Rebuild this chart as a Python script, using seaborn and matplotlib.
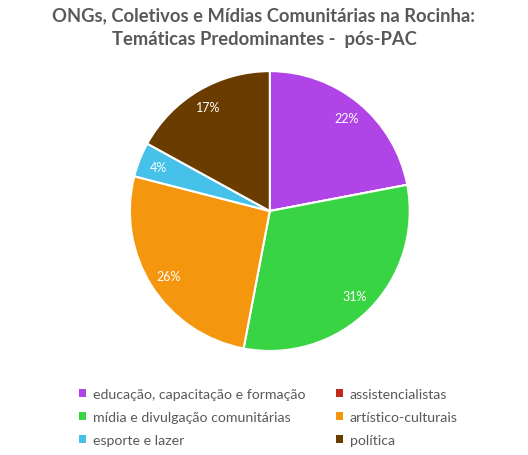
import matplotlib
matplotlib.use("Agg")
import matplotlib.pyplot as plt
import seaborn as sns
from matplotlib.patches import Patch

# dados
categorias = ["educação, capacitação e formação", "assistencialistas",
              "mídia e divulgação comunitárias", "artístico-culturais",
              "esporte e lazer", "política"]
valores = [22, 0, 31, 26, 4, 17]
cores = ["#B044E6", "#C22A1E", "#39D443", "#F5960F", "#46C1E9", "#6B3C00"]
titulo = "ONGs, Coletivos e Mídias Comunitárias na Rocinha:\nTemáticas Predominantes -  pós-PAC"

sns.set_style("white")
plt.rcParams["font.family"] = ["Lato", "DejaVu Sans"]

fig = plt.figure(figsize=(5.28, 4.56), dpi=100)
ax = fig.add_axes([0.246, 0.228, 0.530, 0.614])

def pct(p):
    return f"{p:.0f}%" if p > 0.5 else ""

wedges, textos, autotextos = ax.pie(
    valores, colors=cores, startangle=90, counterclock=False,
    autopct=pct, pctdistance=0.86,
    wedgeprops={"edgecolor": "white", "linewidth": 1.5},
    textprops={"color": "white", "fontsize": 9},
)
ax.set_xlim(-1.0, 1.0)
ax.set_ylim(-1.0, 1.0)
ax.set_aspect("equal")

fig.text(0.5, 0.985, titulo, ha="center", va="top", fontsize=13.2,
         fontweight="bold", color="#595959", linespacing=1.5)

# legenda em duas colunas (ordem por linha)
handles = [Patch(facecolor=c, edgecolor="none") for c in cores]
ordem = [0, 2, 4, 1, 3, 5]
fig.legend([handles[i] for i in ordem], [categorias[i] for i in ordem],
           ncol=2, loc="upper left", bbox_to_anchor=(0.150, 0.147),
           frameon=False, fontsize=10.2, handlelength=0.5, handleheight=0.5,
           handletextpad=0.5, columnspacing=2.1, labelspacing=0.78,
           labelcolor="#595959", borderaxespad=0, borderpad=0)

fig.savefig("out.png", dpi=100)
